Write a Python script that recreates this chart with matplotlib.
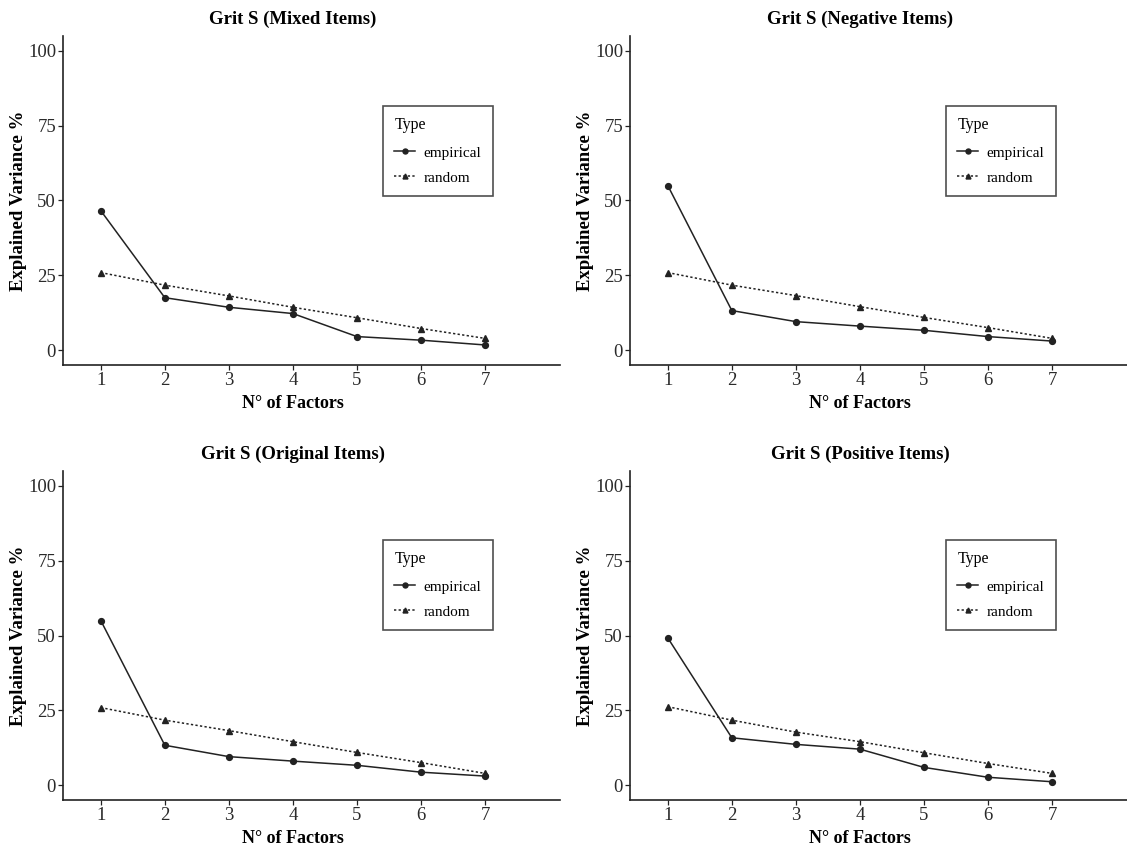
import matplotlib
matplotlib.use("Agg")
import matplotlib.pyplot as plt

plt.rcParams['font.family'] = ['Liberation Serif', 'DejaVu Serif']

factors = [1, 2, 3, 4, 5, 6, 7]

titles = ['Grit S (Mixed Items)', 'Grit S (Negative Items)',
          'Grit S (Original Items)', 'Grit S (Positive Items)']

empirical = [
    [46.6, 17.5, 14.3, 12.2, 4.5, 3.3, 1.7],   # mixed
    [55.0, 13.2, 9.5, 8.0, 6.6, 4.5, 3.0],     # negative
    [55.0, 13.3, 9.5, 8.0, 6.6, 4.3, 3.0],     # original
    [49.2, 15.8, 13.6, 12.0, 5.9, 2.6, 1.1],   # positive
]
random_ = [
    [25.9, 21.7, 18.1, 14.3, 10.8, 7.2, 3.9],
    [25.9, 21.7, 18.2, 14.5, 10.9, 7.5, 3.9],
    [25.9, 21.7, 18.2, 14.5, 10.9, 7.5, 3.9],
    [26.2, 21.7, 17.7, 14.5, 10.8, 7.2, 3.9],
]

W, H = 1127, 847
fig = plt.figure(figsize=(W / 100, H / 100), dpi=100)

# panel boxes in pixels: left, right, top, bottom
boxes = [(63, 560, 36, 365), (630, 1127, 36, 365),
         (63, 560, 471, 800), (630, 1127, 471, 800)]
legend_px = [(383, 106), (946, 106), (383, 540), (946, 540)]

for i in range(4):
    l, r, t, b = boxes[i]
    ax = fig.add_axes([l / W, 1 - b / H, (r - l) / W, (b - t) / H])
    ax.plot(factors, empirical[i], color='#222222', lw=1.1, marker='o',
            ms=4.2, label='empirical')
    ax.plot(factors, random_[i], color='#222222', lw=1.1, ls=(0, (1.5, 1.5)),
            marker='^', ms=4.2, label='random')
    ax.set_xlim(0.41, 8.17)
    ax.set_ylim(-5, 105)
    ax.set_xticks(factors)
    ax.set_yticks([0, 25, 50, 75, 100])
    for s in ['top', 'right']:
        ax.spines[s].set_visible(False)
    for s in ['left', 'bottom']:
        ax.spines[s].set_linewidth(1.2)
        ax.spines[s].set_color('#222222')
    ax.tick_params(length=3.5, width=0.9, labelsize=13.5, colors='#222222',
                   labelcolor='#2a2a2a', pad=1.5)
    ax.set_xlabel('N° of Factors', fontsize=13, fontweight='bold')
    ax.xaxis.set_label_coords((4 - 0.41) / (8.17 - 0.41), -0.091)
    ax.set_ylabel('Explained Variance %', fontsize=13.5, fontweight='bold')
    ax.yaxis.set_label_coords(-0.072, 0.5)
    ax.set_title(titles[i], fontsize=13.5, fontweight='bold', pad=9,
                 x=(4 - 0.41) / (8.17 - 0.41))
    lx, ly = legend_px[i]
    leg = ax.legend(title='Type', loc='upper left',
                    bbox_to_anchor=(lx / W, 1 - ly / H), bbox_transform=fig.transFigure,
                    borderaxespad=0, fontsize=11, title_fontsize=11.5, frameon=True,
                    fancybox=False, edgecolor='#222222', handlelength=1.35,
                    handletextpad=0.55, borderpad=0.75, labelspacing=0.75,
                    markerscale=0.85)
    leg.get_frame().set_linewidth(1.2)
    leg._legend_box.align = 'left'
    leg._legend_box.sep = 9

fig.savefig('out.png', dpi=100)
